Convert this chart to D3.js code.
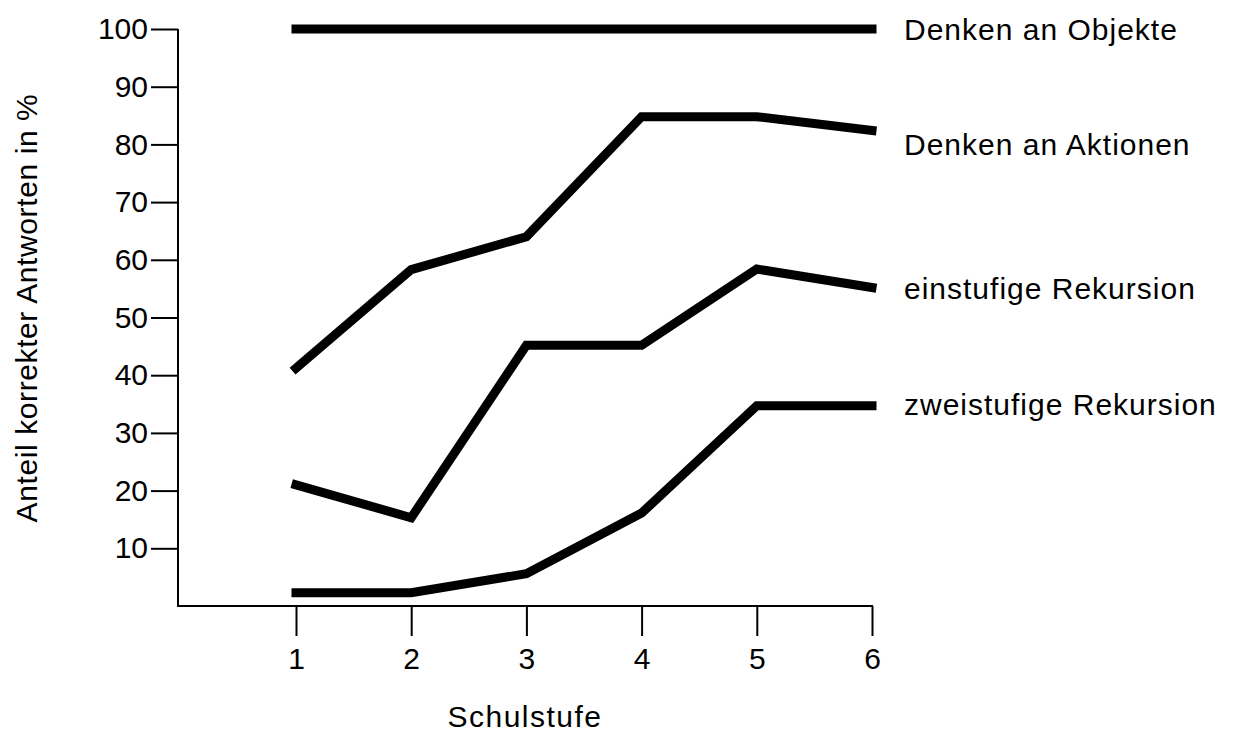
<!DOCTYPE html>
<html lang="de">
<head>
    <meta charset="UTF-8">
    <title>Anteil korrekter Antworten nach Schulstufe</title>
    <script src="https://d3js.org/d3.v7.min.js"></script>
    <style>
        body {
            margin: 0;
            background: #fff;
        }
        svg {
            display: block;
            font-family: "Liberation Sans", Arial, sans-serif;
        }
        .axis path, .axis line {
            stroke: #000;
            stroke-width: 2;
        }
        .axis text {
            font-size: 30px;
            fill: #000;
        }
        .series {
            fill: none;
            stroke: #000;
            stroke-width: 9;
            stroke-linecap: square;
            stroke-linejoin: miter;
        }
        .label {
            font-size: 30px;
            letter-spacing: 1px;
            fill: #000;
        }
    </style>
</head>
<body>
<div id="chart"></div>
<script>
    // data
    const schulstufen = [1, 2, 3, 4, 5, 6];
    const objekte = [100, 100, 100, 100, 100, 100];
    const aktionen = [41.2, 58.3, 64, 84.8, 84.8, 82.4];
    const einstufig = [21, 15.3, 45.2, 45.2, 58.4, 55.2];
    const zweistufig = [2.3, 2.3, 5.6, 16.1, 34.7, 34.7];
    const seriesNames = ['Denken an Objekte', 'Denken an Aktionen', 'einstufige Rekursion', 'zweistufige Rekursion'];
    const labelLevels = [100, 80, 55, 35];   // y value where each series name sits
    const yTicks = [10, 20, 30, 40, 50, 60, 70, 80, 90, 100];

    const width = 1237, height = 733;

    const svg = d3.select('#chart').append('svg')
        .attr('width', width)
        .attr('height', height);

    const x = d3.scaleLinear().domain([1, 6]).range([296, 872]);
    const y = d3.scaleLinear().domain([0, 100]).range([606, 29]);
    const axisX0 = 178;

    // y axis
    svg.append('g')
        .attr('class', 'axis')
        .attr('transform', `translate(${axisX0},0)`)
        .call(d3.axisLeft(y).tickValues(yTicks).tickSize(27).tickSizeOuter(0).tickPadding(3))
        .call(g => g.select('.domain').remove());

    svg.append('line')
        .attr('x1', axisX0).attr('x2', axisX0)
        .attr('y1', y(100)).attr('y2', y(0) + 1)
        .attr('stroke', '#000').attr('stroke-width', 2);

    // x axis
    svg.append('g')
        .attr('class', 'axis')
        .attr('transform', `translate(0,${y(0)})`)
        .call(d3.axisBottom(x).tickValues(schulstufen).tickSize(30).tickSizeOuter(0).tickPadding(12).tickFormat(d3.format('d')))
        .call(g => g.select('.domain').remove());

    svg.append('line')
        .attr('x1', axisX0 - 1).attr('x2', x(6) + 1)
        .attr('y1', y(0)).attr('y2', y(0))
        .attr('stroke', '#000').attr('stroke-width', 2);

    // lines
    const allSeries = [objekte, aktionen, einstufig, zweistufig];
    const line = d3.line()
        .x((d, i) => x(schulstufen[i]))
        .y(d => y(d));

    svg.selectAll('.series')
        .data(allSeries)
        .enter().append('path')
        .attr('class', 'series')
        .attr('d', line);

    // series names
    svg.selectAll('.label')
        .data(seriesNames)
        .enter().append('text')
        .attr('class', 'label')
        .attr('x', 904)
        .attr('y', (d, i) => y(labelLevels[i]))
        .attr('dy', '0.36em')
        .text(d => d);

    // axis titles
    svg.append('text')
        .attr('class', 'label')
        .attr('transform', 'translate(37,308) rotate(-90)')
        .attr('text-anchor', 'middle')
        .style('letter-spacing', '0.6px')
        .text('Anteil korrekter Antworten in %');

    svg.append('text')
        .attr('class', 'label')
        .attr('x', 525)
        .attr('y', 727)
        .attr('text-anchor', 'middle')
        .style('letter-spacing', '1.5px')
        .text('Schulstufe');
</script>
</body>
</html>
